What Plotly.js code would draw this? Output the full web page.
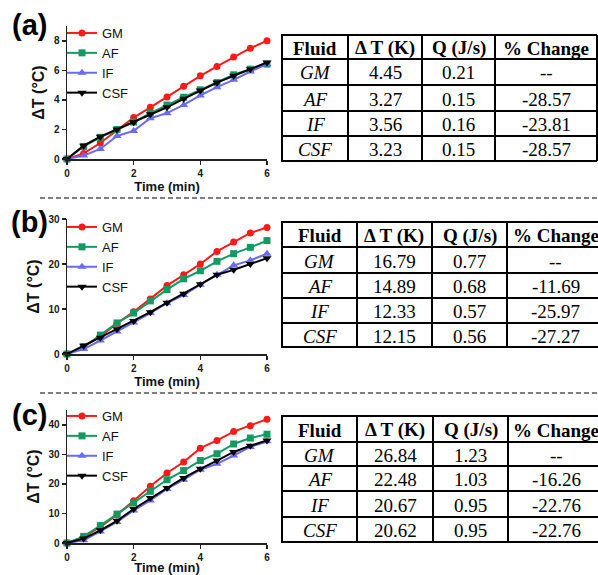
<!DOCTYPE html>
<html>
<head>
<meta charset="utf-8">
<script src="https://cdn.plot.ly/plotly-3.0.1.min.js"></script>
<style>html,body{margin:0;padding:0;background:#fff;}#chart{width:598px;height:575px;}</style>
</head>
<body>
<div id="chart"></div>
<script>
// ---------- data ----------
var time = [0, 0.5, 1, 1.5, 2, 2.5, 3, 3.5, 4, 4.5, 5, 5.5, 6];
var seriesNames = ['GM', 'AF', 'IF', 'CSF'];

var a_GM  = [0, 0.38, 1.08, 1.97, 2.8, 3.5, 4.2, 4.93, 5.63, 6.26, 6.9, 7.5, 8.0];
var a_AF  = [0, 0.85, 1.47, 2.0, 2.5, 3.1, 3.65, 4.18, 4.68, 5.17, 5.7, 6.08, 6.42];
var a_IF  = [0, 0.23, 0.68, 1.56, 1.9, 2.76, 3.1, 3.66, 4.3, 4.86, 5.36, 5.92, 6.42];
var a_CSF = [0, 0.9, 1.51, 2.0, 2.49, 3.03, 3.5, 4.07, 4.63, 5.17, 5.63, 6.08, 6.53];

var b_GM  = [0, 1.6, 3.9, 6.8, 9.4, 12.2, 15.2, 17.6, 20.0, 22.8, 24.9, 26.9, 28.1];
var b_AF  = [0, 1.6, 4.2, 6.9, 9.1, 11.8, 14.3, 16.7, 18.5, 20.6, 22.3, 23.7, 25.2];
var b_IF  = [0, 1.1, 3.0, 5.0, 7.0, 9.1, 11.3, 13.1, 15.4, 17.6, 19.7, 20.8, 22.3];
var b_CSF = [0, 1.86, 3.6, 5.5, 7.35, 9.3, 11.4, 13.4, 15.5, 17.6, 18.7, 20.0, 21.3];

var c_GM  = [0, 2.0, 5.4, 9.6, 14.3, 19.2, 23.7, 27.4, 32.1, 34.7, 37.7, 39.7, 41.9];
var c_AF  = [0, 2.25, 5.9, 9.8, 13.5, 17.5, 21.4, 24.5, 27.9, 30.2, 33.5, 35.5, 36.8];
var c_IF  = [0, 0.9, 3.9, 7.1, 11.0, 14.4, 18.3, 21.4, 24.8, 26.8, 29.6, 32.5, 34.4];
var c_CSF = [0, 1.5, 4.3, 7.5, 11.5, 15.2, 18.6, 22.0, 25.1, 27.9, 30.8, 32.9, 34.7];

var tableHeader = ['Fluid', '\u0394 T (K)', 'Q (J/s)', '% Change'];
var fluids = ['GM', 'AF', 'IF', 'CSF'];
var a_dT  = ['4.45', '3.27', '3.56', '3.23'];
var a_Q   = ['0.21', '0.15', '0.16', '0.15'];
var a_pct = ['--', '-28.57', '-23.81', '-28.57'];
var b_dT  = ['16.79', '14.89', '12.33', '12.15'];
var b_Q   = ['0.77', '0.68', '0.57', '0.56'];
var b_pct = ['--', '-11.69', '-25.97', '-27.27'];
var c_dT  = ['26.84', '22.48', '20.67', '20.62'];
var c_Q   = ['1.23', '1.03', '0.95', '0.95'];
var c_pct = ['--', '-16.26', '-22.76', '-22.76'];

var yTickVals_a = [0, 2, 4, 6, 8];
var yTickVals_b = [0, 10, 20, 30];
var yTickVals_c = [0, 10, 20, 30, 40];
var xTickVals = [0, 2, 4, 6];
var panelLabels = ['(a)', '(b)', '(c)'];

// ---------- layout helpers ----------
var W = 598, H = 575;
function px(x) { return x / W; }
function py(y) { return 1 - y / H; }

var colors = {GM: '#ff1a1a', AF: '#129a62', IF: '#6a6af5', CSF: '#000000'};
var symbols = {GM: 'circle', AF: 'square', IF: 'triangle-up', CSF: 'triangle-down'};
var msize = {GM: 7, AF: 7, IF: 8, CSF: 8};

var panels = [
  {id: '', data: [a_GM, a_AF, a_IF, a_CSF], legend: 'legend'},
  {id: '2', data: [b_GM, b_AF, b_IF, b_CSF], legend: 'legend2'},
  {id: '3', data: [c_GM, c_AF, c_IF, c_CSF], legend: 'legend3'}
];

var traces = [];
panels.forEach(function (p) {
  seriesNames.forEach(function (n, i) {
    traces.push({
      type: 'scatter', mode: 'lines+markers',
      x: time, y: p.data[i], name: n,
      xaxis: 'x' + p.id, yaxis: 'y' + p.id,
      legend: p.legend,
      cliponaxis: false,
      line: {color: colors[n], width: 2},
      marker: {color: colors[n], symbol: symbols[n], size: msize[n], line: {width: 0}}
    });
  });
});

// ---------- tables (grid shapes + cell text annotations) ----------
var shapes = [];
var annotations = [];
var serif = 'Liberation Serif, Times New Roman, serif';

function buildTable(cols, rows, dT, Q, pct, rightBorder) {
  var lw = 2;
  rows.forEach(function (y) {
    shapes.push({type: 'line', xref: 'paper', yref: 'paper',
      x0: px(cols[0] - 1), x1: px(cols[cols.length - 1]), y0: py(y), y1: py(y),
      line: {color: '#000', width: lw}});
  });
  cols.forEach(function (x, i) {
    if (i === cols.length - 1 && !rightBorder) return;
    shapes.push({type: 'line', xref: 'paper', yref: 'paper',
      x0: px(x), x1: px(x), y0: py(rows[0]), y1: py(rows[rows.length - 1]),
      line: {color: '#000', width: lw}});
  });
  var columns = [fluids, dT, Q, pct];
  function cell(text, ci, ri, isItalic, isBold) {
    var t = text;
    if (isItalic) t = '<i>' + t + '</i>';
    if (isBold) t = '<b>' + t + '</b>';
    annotations.push({text: t, xref: 'paper', yref: 'paper',
      x: px((cols[ci] + cols[ci + 1]) / 2), y: py((rows[ri] + rows[ri + 1]) / 2 + 1),
      xanchor: 'center', yanchor: 'middle', showarrow: false,
      font: {family: serif, size: 19, color: '#000'}});
  }
  tableHeader.forEach(function (h, ci) { cell(h, ci, 0, false, true); });
  for (var r = 0; r < fluids.length; r++) {
    for (var c = 0; c < 4; c++) {
      cell(columns[c][r], c, r + 1, c === 0, false);
    }
  }
}

buildTable([282, 348, 422, 495, 597], [35, 59, 85, 111, 136, 161], a_dT, a_Q, a_pct, true);
buildTable([282, 357, 432, 507, 604], [222, 247, 273, 298, 323, 347], b_dT, b_Q, b_pct, false);
buildTable([282, 357, 433, 508, 604], [416, 442, 466, 491, 517, 542], c_dT, c_Q, c_pct, false);

// ---------- axes ----------
var tickFont = {family: 'Arial, Liberation Sans, sans-serif', size: 10, color: '#1a1a1a', weight: 'bold'};
function xAxis(anchor) {
  return {
    domain: [px(67), px(267)], anchor: anchor, range: [0, 6],
    tickvals: xTickVals, ticks: 'outside', ticklen: 4, tickwidth: 1.5, tickcolor: '#222',
    showline: true, linecolor: '#222', linewidth: 1.5, showgrid: false, zeroline: false,
    tickfont: tickFont,
    title: {text: '<b>Time (min)</b>', font: {family: 'Arial, Liberation Sans, sans-serif', size: 13, color: '#111'}, standoff: 4}
  };
}
function yAxis(anchor, range, tv, yb, yt) {
  return {
    domain: [py(yb), py(yt)], anchor: anchor, range: range,
    tickvals: tv, ticks: 'outside', ticklen: 4, tickwidth: 1.5, tickcolor: '#222',
    showline: true, linecolor: '#222', linewidth: 1.5, showgrid: false, zeroline: false,
    tickfont: tickFont,
    title: {text: '<b>\u0394T (\u00b0C)</b>', font: {family: 'Arial, Liberation Sans, sans-serif', size: 16, color: '#111'}, standoff: 5}
  };
}

function legendAt(ytop) {
  return {
    x: px(62), y: py(ytop), xanchor: 'left', yanchor: 'top',
    bgcolor: 'rgba(0,0,0,0)', borderwidth: 0,
    font: {family: 'Arial, Liberation Sans, sans-serif', size: 13, color: '#111'},
    tracegroupgap: 0, itemwidth: 30
  };
}

function dashLine(y) {
  return {type: 'line', xref: 'paper', yref: 'paper', x0: px(40), x1: 1, y0: py(y), y1: py(y),
          line: {color: '#000', width: 1.2, dash: '5px,3px'}};
}
shapes.push(dashLine(198));
shapes.push(dashLine(393));

var panelY = [25, 222, 415];
panelLabels.forEach(function (t, i) {
  annotations.push({text: '<b>' + t + '</b>', xref: 'paper', yref: 'paper', x: px(29), y: py(panelY[i]),
          xanchor: 'center', yanchor: 'middle', showarrow: false,
          font: {family: 'Arial, Liberation Sans, sans-serif', size: 29, color: '#000'}});
});

var layout = {
  width: W, height: H,
  margin: {l: 0, r: 0, t: 0, b: 0},
  paper_bgcolor: '#fff', plot_bgcolor: '#fff',
  showlegend: true,
  xaxis: xAxis('y'), yaxis: yAxis('x', [0, 9], yTickVals_a, 159, 26),
  xaxis2: xAxis('y2'), yaxis2: yAxis('x2', [0, 30], yTickVals_b, 354, 219),
  xaxis3: xAxis('y3'), yaxis3: yAxis('x3', [0, 45], yTickVals_c, 543, 410),
  legend: legendAt(18), legend2: legendAt(212), legend3: legendAt(401),
  shapes: shapes,
  annotations: annotations
};

Plotly.newPlot('chart', traces, layout, {staticPlot: true, displayModeBar: false});
</script>
</body>
</html>
